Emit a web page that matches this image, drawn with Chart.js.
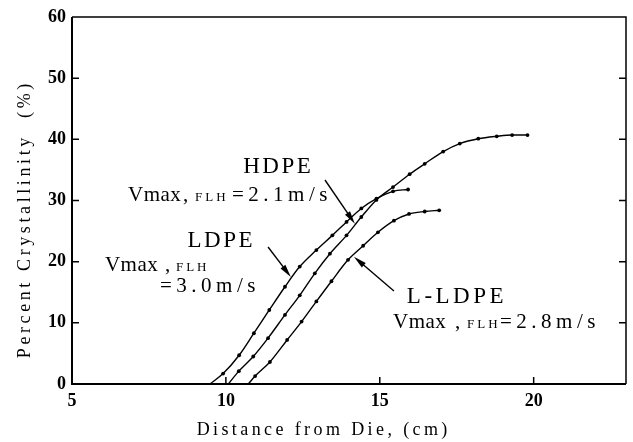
<!DOCTYPE html>
<html>
<head>
<meta charset="utf-8">
<script src="https://cdn.jsdelivr.net/npm/chart.js@4"></script>
<style>
html,body{margin:0;padding:0;background:#fff;}
#c{display:block;}
</style>
</head>
<body>
<canvas id="c" width="633" height="442"></canvas>
<script>
// ---- data ----
const xTicks = [5, 10, 15, 20];
const yTicks = [0, 10, 20, 30, 40, 50, 60];

const ldpeX  = [9.48, 9.91, 10.43, 10.91, 11.41, 11.92, 12.40, 12.94, 13.46, 13.92, 14.40, 14.89, 15.43, 15.92];
const ldpeY  = [0, 1.7, 4.7, 8.3, 12.1, 15.9, 19.2, 21.9, 24.3, 26.5, 28.7, 30.3, 31.5, 31.8];

const hdpeX  = [10.08, 10.42, 10.89, 11.37, 11.92, 12.40, 12.89, 13.38, 13.92, 14.40, 14.89, 15.43, 15.97, 16.46, 17.06, 17.6, 18.2, 18.8, 19.3, 19.8];
const hdpeY  = [0, 2.1, 4.5, 7.5, 11.3, 14.5, 18.1, 21.3, 24.3, 27.3, 30.1, 32.2, 34.3, 36.0, 38.0, 39.3, 40.1, 40.5, 40.7, 40.7];

const lldpeX = [10.73, 10.95, 11.43, 11.99, 12.46, 12.94, 13.43, 13.97, 14.46, 14.94, 15.46, 15.95, 16.46, 16.93];
const lldpeY = [0, 1.3, 3.6, 7.2, 10.2, 13.5, 16.8, 20.3, 22.6, 24.8, 26.7, 27.8, 28.2, 28.4];

const xTitle = "Distance from Die, (cm)";
const yTitle = "Percent Crystallinity  (%)";

// annotation texts (anchor in data units)
const labels = [
  {x: 11.66, y: 34.5, align: 'center', segs: [{t: 'HDPE', f: 23, ls: 2.5}]},
  {x: 6.82, y: 29.9, segs: [{t: 'Vmax', dx: 0, f: 21, ls: 0.5}, {t: ',', dx: 55, f: 21}, {t: 'FLH', dx: 67, f: 13, ls: 3}, {t: '=2.1m/s', dx: 104, f: 21, ls: 4.5}]},
  {x: 9.81, y: 22.4, align: 'center', segs: [{t: 'LDPE', f: 23, ls: 2.5}]},
  {x: 6.07, y: 18.5, segs: [{t: 'Vmax', dx: 0, f: 21, ls: 0.5}, {t: ',', dx: 60, f: 21}, {t: 'FLH', dx: 71, f: 13, ls: 3}]},
  {x: 7.86, y: 15.0, segs: [{t: '=3.0m/s', dx: 0, f: 21, ls: 4.5}]},
  {x: 15.88, y: 13.2, segs: [{t: 'L-LDPE', f: 23, ls: 3.5}]},
  {x: 15.43, y: 9.15, segs: [{t: 'Vmax', dx: 0, f: 21, ls: 0.5}, {t: ',', dx: 62, f: 21}, {t: 'FLH', dx: 74, f: 13, ls: 3}, {t: '=2.8m/s', dx: 107, f: 21, ls: 4.5}]}
];
const arrows = [
  {x1: 13.22, y1: 33.35, x2: 14.19, y2: 26.2},
  {x1: 11.37, y1: 22.4, x2: 12.11, y2: 17.5},
  {x1: 15.46, y1: 15.2, x2: 14.16, y2: 20.8}
];

const SERIF = '"Liberation Serif", "DejaVu Serif", serif';

function pts(xs, ys) { return xs.map((x, i) => ({x: x, y: ys[i]})); }

function spaced(ctx, text, x, y, ls) {
  let cx = x;
  for (const ch of text) {
    ctx.fillText(ch, cx, y);
    cx += ctx.measureText(ch).width + (ls || 0);
  }
  return cx - (ls || 0);
}
function spacedWidth(ctx, text, ls) {
  let w = 0;
  for (const ch of text) w += ctx.measureText(ch).width + (ls || 0);
  return w - (ls || 0);
}

const deco = {
  id: 'deco',
  afterDraw(chart) {
    const ctx = chart.ctx;
    const a = chart.chartArea;
    const xs = chart.scales.x, ys = chart.scales.y;
    ctx.save();
    ctx.strokeStyle = '#000';
    ctx.fillStyle = '#000';
    // frame
    ctx.lineWidth = 2;
    ctx.beginPath();
    ctx.moveTo(a.left, a.top); ctx.lineTo(a.left, a.bottom); ctx.lineTo(a.right, a.bottom);
    ctx.stroke();
    ctx.lineWidth = 1.5;
    ctx.beginPath();
    ctx.moveTo(a.left, a.top); ctx.lineTo(a.right, a.top); ctx.lineTo(a.right, a.bottom);
    ctx.stroke();
    // inward ticks
    ctx.lineWidth = 1.5;
    yTicks.forEach(v => {
      if (v === 0 || v === 60) return;
      const p = ys.getPixelForValue(v);
      ctx.beginPath();
      ctx.moveTo(a.left, p); ctx.lineTo(a.left + 7, p);
      ctx.moveTo(a.right, p); ctx.lineTo(a.right - 7, p);
      ctx.stroke();
    });
    xTicks.forEach(v => {
      if (v === 5) return;
      const p = xs.getPixelForValue(v);
      ctx.beginPath();
      ctx.moveTo(p, a.bottom); ctx.lineTo(p, a.bottom - 7);
      ctx.stroke();
    });
    // axis titles
    ctx.textBaseline = 'middle';
    ctx.font = '18px ' + SERIF;
    let w = spacedWidth(ctx, xTitle, 3.4);
    spaced(ctx, xTitle, 322 - w / 2, 430, 3.4);
    ctx.save();
    ctx.translate(25, 221);
    ctx.rotate(-Math.PI / 2);
    w = spacedWidth(ctx, yTitle, 3.6);
    spaced(ctx, yTitle, -w / 2, 0, 3.6);
    ctx.restore();
    // arrows
    arrows.forEach(ar => {
      const x1 = xs.getPixelForValue(ar.x1), y1 = ys.getPixelForValue(ar.y1);
      const x2 = xs.getPixelForValue(ar.x2), y2 = ys.getPixelForValue(ar.y2);
      const ang = Math.atan2(y2 - y1, x2 - x1);
      const L = 13, H = 3;
      ctx.lineWidth = 1.4;
      ctx.beginPath();
      ctx.moveTo(x1, y1);
      ctx.lineTo(x2 - Math.cos(ang) * L * 0.8, y2 - Math.sin(ang) * L * 0.8);
      ctx.stroke();
      ctx.beginPath();
      ctx.moveTo(x2, y2);
      const bx = x2 - Math.cos(ang) * L, by = y2 - Math.sin(ang) * L;
      ctx.lineTo(bx + Math.sin(ang) * H, by - Math.cos(ang) * H);
      ctx.lineTo(bx - Math.sin(ang) * H, by + Math.cos(ang) * H);
      ctx.closePath();
      ctx.fill();
    });
    // labels
    ctx.textBaseline = 'alphabetic';
    labels.forEach(lb => {
      const px = xs.getPixelForValue(lb.x), py = ys.getPixelForValue(lb.y);
      lb.segs.forEach(s => {
        ctx.font = s.f + 'px ' + SERIF;
        let sx = px + (s.dx || 0);
        if (lb.align === 'center') sx = px - spacedWidth(ctx, s.t, s.ls) / 2;
        spaced(ctx, s.t, sx, py, s.ls);
      });
    });
    ctx.restore();
  }
};

function ds(xs, ys) {
  return {
    data: pts(xs, ys),
    borderColor: '#000',
    backgroundColor: '#000',
    borderWidth: 1.4,
    pointRadius: ctx => ctx.dataIndex === 0 ? 0 : 1.9,
    pointBorderWidth: 0,
    pointBackgroundColor: '#000',
    cubicInterpolationMode: 'monotone',
    fill: false
  };
}

new Chart(document.getElementById('c'), {
  type: 'line',
  data: {
    datasets: [ds(ldpeX, ldpeY), ds(hdpeX, hdpeY), ds(lldpeX, lldpeY)]
  },
  options: {
    responsive: false,
    devicePixelRatio: 1,
    animation: false,
    layout: {padding: {top: 17, right: 7, left: 0, bottom: 0}},
    plugins: {legend: {display: false}, tooltip: {enabled: false}},
    scales: {
      x: {
        type: 'linear', min: 5, max: 23,
        afterBuildTicks: s => { s.ticks = xTicks.map(v => ({value: v})); },
        afterFit: s => { s.height = 58; },
        grid: {display: false, drawTicks: false},
        border: {display: false},
        ticks: {color: '#000', padding: 7, font: {family: SERIF, size: 18, weight: 'bold'}, maxRotation: 0}
      },
      y: {
        type: 'linear', min: 0, max: 60,
        afterBuildTicks: s => { s.ticks = yTicks.map(v => ({value: v})); },
        afterFit: s => { s.width = 72; },
        grid: {display: false, drawTicks: false},
        border: {display: false},
        ticks: {color: '#000', padding: 6, font: {family: SERIF, size: 18, weight: 'bold'}}
      }
    }
  },
  plugins: [deco]
});
</script>
</body>
</html>
